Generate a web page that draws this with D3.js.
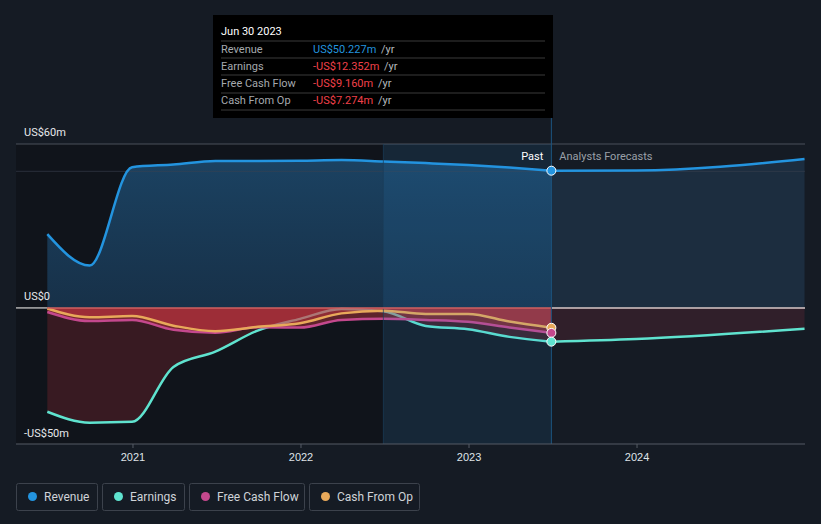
<!DOCTYPE html>
<html><head><meta charset="utf-8">
<script src="https://cdn.jsdelivr.net/npm/d3@7"></script>
<style>
html,body{margin:0;padding:0;background:#151b24;}
svg{display:block;font-family:Roboto,"Open Sans",sans-serif;}
</style></head>
<body><svg id="c" width="821" height="524"></svg>
<script>
// ---- data (US$ millions) ----
const pastDates = ["2020-06-30","2020-09-30","2020-12-31","2021-03-31","2021-06-30","2021-09-30","2021-12-31","2022-03-31","2022-06-30","2022-09-30","2022-12-31","2023-03-31","2023-06-30"];
const revenuePast  = [27, 15.5, 51.5, 52.5, 53.8, 53.8, 53.9, 54.1, 53.6, 53.0, 52.3, 51.4, 50.227];
const earningsPast = [-38, -42, -41.7, -21.6, -16, -8.3, -4.0, -0.4, -1.2, -6.6, -7.8, -10.6, -12.352];
const fcfPast      = [-1.5, -4.8, -4.4, -8.0, -9.1, -7.1, -7.2, -4.4, -4.0, -4.4, -5.1, -7.2, -9.160];
const cfoPast      = [-0.2, -3.4, -3.0, -6.5, -8.5, -6.9, -5.6, -2.0, -1.0, -2.2, -2.2, -5.0, -7.274];
const forecastDates    = ["2023-06-30","2023-12-31","2024-12-31"];
const revenueForecast  = [50.227, 50.3, 54.5];
const earningsForecast = [-12.352, -11.4, -7.6];
const yTicks = [60, 0, -50];
const yTickLabels = ["US$60m", "US$0", "-US$50m"];
const xTickYears = [2021, 2022, 2023, 2024];
const legendNames = ["Revenue", "Earnings", "Free Cash Flow", "Cash From Op"];
const tooltipTitle = "Jun 30 2023";
const tooltipValues = ["US$50.227m", "-US$12.352m", "-US$9.160m", "-US$7.274m"];

const colors = {Revenue:"#2394df", Earnings:"#5fe3cf", "Free Cash Flow":"#c4488d", "Cash From Op":"#e8a95a"};
const parse = d3.timeParse("%Y-%m-%d");
const pd = pastDates.map(parse), fd = forecastDates.map(parse);

const svg = d3.select("#c");
const W = 821, H = 524;
const x = d3.scaleTime().domain([parse("2020-01-01"), parse("2025-01-01")]).range([-36, 805]);
const y = d3.scaleLinear().domain([-50, 60]).range([444.5, 144]);
const pLeft = 16, pRight = 805, pTop = 144, pBottom = 444;
const xPast0 = x(pd[0]), xNow = x(pd[pd.length-1]), xBand = x(parse("2022-06-30"));

svg.append("rect").attr("width", W).attr("height", H).attr("fill", "#151b24");
// past darker region
svg.append("rect").attr("x", pLeft).attr("y", pTop).attr("width", xBand-pLeft).attr("height", pBottom-pTop).attr("fill", "#10141b");

const defs = svg.append("defs");
const g1 = defs.append("linearGradient").attr("id","revg").attr("x1",0).attr("x2",0).attr("y1",0).attr("y2",1);
g1.append("stop").attr("offset","0%").attr("stop-color","#1d4a6e").attr("stop-opacity",0.85);
g1.append("stop").attr("offset","100%").attr("stop-color","#1a3d5c").attr("stop-opacity",0.7);

const curve = d3.curveMonotoneX;
const mk = (dates, vals) => dates.map((d,i)=>({d, v: vals[i]}));
const revP = mk(pd, revenuePast), revF = mk(fd, revenueForecast);
const earP = mk(pd, earningsPast), earF = mk(fd, earningsForecast);
const fcfP = mk(pd, fcfPast), cfoP = mk(pd, cfoPast);

const area = d3.area().x(p=>x(p.d)).y0(y(0)).y1(p=>y(p.v)).curve(curve);
const line = d3.line().x(p=>x(p.d)).y(p=>y(p.v)).curve(curve);

// revenue areas
svg.append("path").attr("d", area(revP)).attr("fill","url(#revg)");
svg.append("path").attr("d", area(revF)).attr("fill","#1e3246").attr("opacity",0.8);
// earnings areas
svg.append("path").attr("d", area(earP)).attr("fill","#c8323c").attr("opacity",0.22);
svg.append("path").attr("d", area(earF)).attr("fill","#a03448").attr("opacity",0.2);

// gridlines
svg.append("line").attr("x1",pLeft).attr("x2",pRight).attr("y1",y(60)).attr("y2",y(60)).attr("stroke","#4a505a").attr("stroke-width",1);
svg.append("line").attr("x1",pLeft).attr("x2",pRight).attr("y1",y(50)).attr("y2",y(50)).attr("stroke","#3a4250").attr("stroke-width",1).attr("opacity",0.6);

// earnings line
svg.append("path").attr("d", line(earP)).attr("fill","none").attr("stroke",colors.Earnings).attr("stroke-width",2.5);
svg.append("path").attr("d", line(earF)).attr("fill","none").attr("stroke",colors.Earnings).attr("stroke-width",2.5);
// cash areas over earnings
svg.append("path").attr("d", area(fcfP)).attr("fill","#d83a44").attr("opacity",0.4);
svg.append("path").attr("d", area(cfoP)).attr("fill","#d83a44").attr("opacity",0.4);
// cash lines
svg.append("path").attr("d", line(fcfP)).attr("fill","none").attr("stroke",colors["Free Cash Flow"]).attr("stroke-width",2.5);
svg.append("path").attr("d", line(cfoP)).attr("fill","none").attr("stroke",colors["Cash From Op"]).attr("stroke-width",2.5);
// revenue line
svg.append("path").attr("d", line(revP)).attr("fill","none").attr("stroke",colors.Revenue).attr("stroke-width",2.5);
svg.append("path").attr("d", line(revF)).attr("fill","none").attr("stroke",colors.Revenue).attr("stroke-width",2.5);

// highlight band
svg.append("rect").attr("x", xBand).attr("y", pTop).attr("width", xNow-xBand).attr("height", pBottom-pTop).attr("fill","#2394df").attr("opacity",0.1);
svg.append("line").attr("x1",xBand).attr("x2",xBand).attr("y1",pTop).attr("y2",pBottom).attr("stroke","#1a3f5c").attr("stroke-width",1).attr("opacity",0.7);

// zero line
svg.append("line").attr("x1",pLeft).attr("x2",xPast0).attr("y1",y(0)).attr("y2",y(0)).attr("stroke","#b0b0b0").attr("stroke-width",1.5);
svg.append("line").attr("x1",xPast0).attr("x2",xNow).attr("y1",y(0)).attr("y2",y(0)).attr("stroke","#d06060").attr("stroke-width",1.5);
svg.append("line").attr("x1",xNow).attr("x2",pRight).attr("y1",y(0)).attr("y2",y(0)).attr("stroke","#d8c8c8").attr("stroke-width",1.5);

// now line
svg.append("line").attr("x1",xNow).attr("x2",xNow).attr("y1",118).attr("y2",pBottom).attr("stroke","#1c5580").attr("stroke-width",1);

// markers
const markers = [["Cash From Op", cfoPast], ["Free Cash Flow", fcfPast], ["Earnings", earningsPast], ["Revenue", revenuePast]];
markers.forEach(([k, arr]) => {
  svg.append("circle").attr("cx", xNow).attr("cy", y(arr[arr.length-1])).attr("r",4.5)
    .attr("fill", colors[k]).attr("stroke","#fff").attr("stroke-width",1);
});

// x axis
const xAxis = d3.axisBottom(x).tickValues(xTickYears.map(yr=>new Date(yr,0,1))).tickFormat(d3.timeFormat("%Y")).tickSize(4).tickSizeOuter(0);
const ax = svg.append("g").attr("transform",`translate(0,${pBottom})`).call(xAxis);
ax.select(".domain").attr("d", `M${pLeft},0H${pRight}`).attr("stroke","#555b65");
ax.selectAll(".tick line").attr("stroke","#555b65");
ax.selectAll(".tick text").attr("fill","#dfe3e8").attr("font-size",11).attr("dy","0.95em");

// y labels
yTicks.forEach((t,i)=>{
  svg.append("text").attr("x",24).attr("y", y(t)-8).text(yTickLabels[i]).attr("fill","#e6e8eb").attr("font-size",11);
});

// past / forecast labels
svg.append("text").attr("x", xNow-8).attr("y",160).attr("text-anchor","end").text("Past").attr("fill","#ffffff").attr("font-size",11);
svg.append("text").attr("x", xNow+8).attr("y",160).text("Analysts Forecasts").attr("fill","#9aa0a8").attr("font-size",11);

// tooltip
const tt = svg.append("g");
tt.append("rect").attr("x",213).attr("y",15).attr("width",340).attr("height",103).attr("fill","#000");
tt.append("text").attr("x",221).attr("y",35).text(tooltipTitle).attr("fill","#fff").attr("font-size",11);
const rowY = [53, 70, 87, 104];
[41, 58, 75, 93, 110].forEach(ly=>tt.append("line").attr("x1",221).attr("x2",545).attr("y1",ly).attr("y2",ly).attr("stroke","#3a3a3a"));
legendNames.forEach((n,i)=>{
  tt.append("text").attr("x",221).attr("y",rowY[i]).text(n).attr("fill","#a5a9ae").attr("font-size",11);
  const t = tt.append("text").attr("x",313).attr("y",rowY[i]).attr("font-size",11);
  t.append("tspan").text(tooltipValues[i]).attr("fill", i===0 ? "#2394df" : "#f0404a");
  t.append("tspan").text(" /yr").attr("fill","#b5b9be").attr("dx",2);
});

// legend
let lx = 16;
const boxW = [81, 82, 115, 110];
legendNames.forEach((n,i)=>{
  const g = svg.append("g").attr("transform",`translate(${lx},483)`);
  g.append("rect").attr("x",0.5).attr("y",0.5).attr("width",boxW[i]).attr("height",27).attr("rx",2).attr("fill","none").attr("stroke","#3c424c");
  g.append("circle").attr("cx",16.5).attr("cy",13.5).attr("r",4.5).attr("fill",colors[n]);
  g.append("text").attr("x",28).attr("y",17.5).text(n).attr("fill","#cfd3d8").attr("font-size",12);
  lx += boxW[i] + 5;
});
</script></body></html>
